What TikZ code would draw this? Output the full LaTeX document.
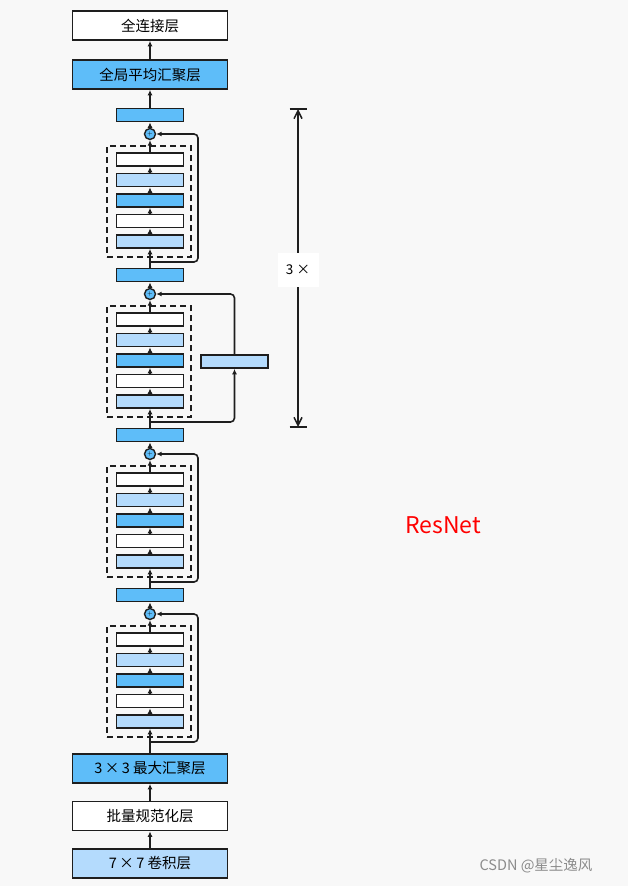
\documentclass[tikz,border=0pt]{standalone}
\usepackage{fontspec}
\newfontfamily\cjkfont{Noto Sans CJK SC}
\usetikzlibrary{arrows.meta}
\definecolor{mblue}{RGB}{94,189,249}
\definecolor{lblue}{RGB}{180,219,253}
\definecolor{edge}{RGB}{30,30,30}
\definecolor{bgcol}{RGB}{248,248,248}
\definecolor{markgray}{RGB}{140,140,140}

\begin{document}
\begin{tikzpicture}[x=1pt, y=-1pt,
  layer/.style={draw=edge, line width=1.7pt, minimum width=155pt, minimum height=29pt, inner sep=0pt, font=\cjkfont\fontsize{14.5}{14.5}\selectfont},
  unit/.style={draw=edge, line width=1.7pt, minimum width=67pt, minimum height=13pt, inner sep=0pt},
  addop/.style={circle, draw=edge, fill=mblue, line width=1.4pt, minimum size=11pt, inner sep=0pt, font=\fontsize{6}{6}\selectfont},
  blockbox/.style={draw=edge, line width=1.6pt, dash pattern=on 6pt off 4pt, minimum width=84pt, minimum height=111pt, inner sep=0pt},
  flow/.style={draw=edge, line width=1.6pt, -{Latex[length=5.5pt,width=5pt]}},
  skip/.style={flow, rounded corners=4pt},
  dim/.style={draw=edge, line width=1.5pt, -{Straight Barb[length=8pt,width=8pt]}}
]

% Background
\fill[bgcol] (0,0) rectangle (628,886);
\useasboundingbox (0,0) rectangle (628,886);

% Stem and head layers
\node[layer, fill=white] (fc) at (150,25.5) {全连接层};
\node[layer, fill=mblue] (gap) at (150,74.5) {全局平均汇聚层};
\node[layer, fill=mblue] (pool) at (150,768.5) {3\,×\,3 最大汇聚层};
\node[layer, fill=white] (bn) at (150,816) {批量规范化层};
\node[layer, fill=lblue] (conv) at (150,863.5) {7\,×\,7 卷积层};

% Residual blocks
\foreach \k in {1,...,4} {
  \pgfmathsetmacro\cy{134+160*(\k-1)}
  \node[unit, fill=mblue] (o\k) at (150,\cy-19) {};
  \node[addop] (c\k) at (150,\cy) {+};
  \node[blockbox] (d\k) at (149,\cy+67.5) {};
  \foreach \i/\f in {1/white,2/lblue,3/mblue,4/white,5/lblue}
    \node[unit, fill=\f] (b\k\i) at (150,\cy+5+20.5*\i) {};
  \coordinate (s\k) at (150,\cy+128);
  \foreach \i/\j in {2/1,3/2,4/3,5/4}
    \draw[flow] (b\k\i) -- (b\k\j);
  \draw[flow] (b\k1) -- (c\k);
  \draw[flow] (c\k) -- (o\k);
}

% Inputs of the blocks
\foreach \k/\n in {1/o2,2/o3,3/o4,4/pool}
  \draw[flow] (\n) -- (b\k5);

% Shortcuts
\foreach \k in {1,3,4}
  \draw[skip] (s\k) -- ++(48,0) |- (c\k);
\node[unit, fill=lblue] (side) at (234.5,361.5) {};
\draw[skip] (s2) -| (side);
\draw[skip] (side) |- (c2);

% Main flow
\draw[flow] (conv) -- (bn);
\draw[flow] (bn) -- (pool);
\draw[flow] (o1) -- (gap);
\draw[flow] (gap) -- (fc);

% Repeat marker
\coordinate (rt) at (298,109);
\coordinate (rb) at (298,427);
\node[fill=white, minimum width=41pt, minimum height=34pt, inner sep=0pt, font=\cjkfont\fontsize{13.5}{13.5}\selectfont] (rep) at (298,270) {3 ×};
\draw[dim] (rep) -- (rt);
\draw[dim] (rep) -- (rb);
\draw[draw=edge, line width=1.5pt] ([xshift=-8.5pt]rt) -- ([xshift=8.5pt]rt);
\draw[draw=edge, line width=1.5pt] ([xshift=-8.5pt]rb) -- ([xshift=8.5pt]rb);

% Labels
\node[text=red, font=\cjkfont\fontsize{23}{23}\selectfont] (title) at (443,525) {ResNet};
\node[text=markgray, font=\cjkfont\fontsize{14.5}{14.5}\selectfont] (mark) at (536,866) {CSDN @星尘逸风};

\end{tikzpicture}
\end{document}
